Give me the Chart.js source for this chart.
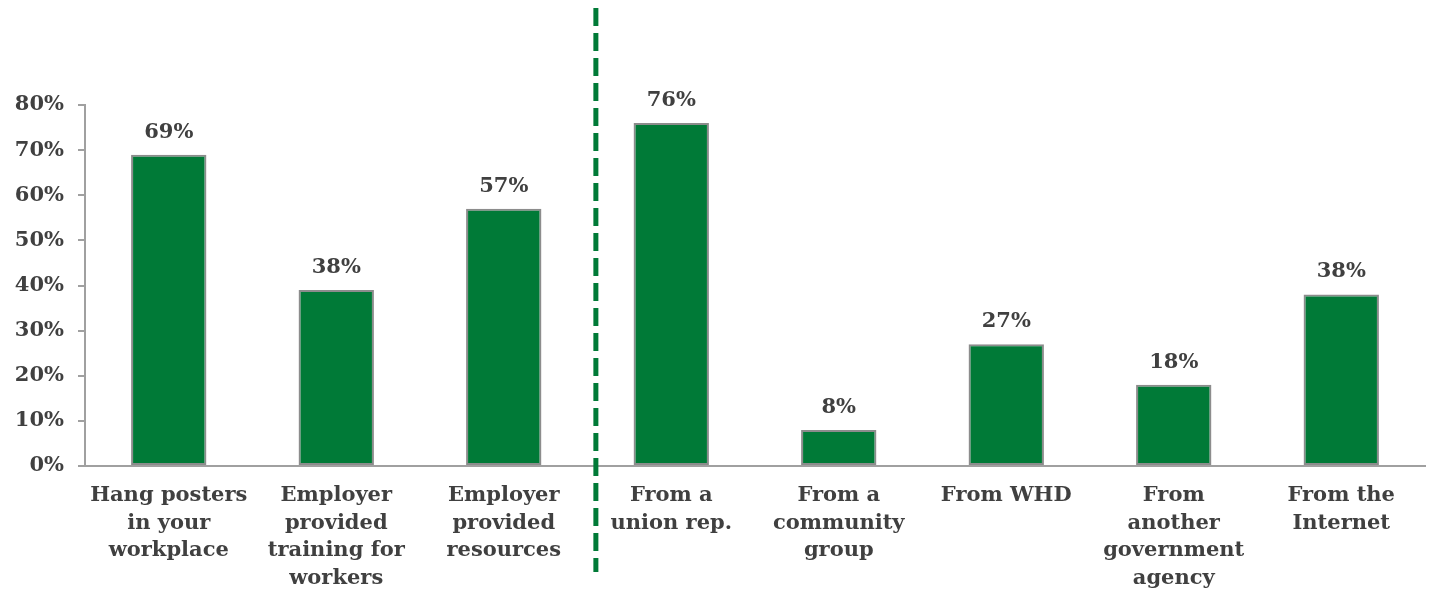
<!DOCTYPE html>
<html>
<head>
<meta charset="utf-8">
<script src="https://cdn.jsdelivr.net/npm/chart.js@4.4.1/dist/chart.umd.min.js"></script>
<style>
    html, body { margin: 0; padding: 0; background: #fff; }
    #wrap { position: relative; width: 1433px; height: 593px; }
</style>
</head>
<body>
<div id="wrap"><canvas id="chart"></canvas></div>
<script>
// Sources of information about worker rights (share of respondents)
const categories = [
    ['Hang posters', 'in your', 'workplace'],
    ['Employer', 'provided', 'training for', 'workers'],
    ['Employer', 'provided', 'resources'],
    ['From a', 'union rep.'],
    ['From a', 'community', 'group'],
    ['From WHD'],
    ['From', 'another', 'government', 'agency'],
    ['From the', 'Internet']
];
const values = [69, 39, 57, 76, 8, 27, 18, 38];
const valueLabels = ['69%', '38%', '57%', '76%', '8%', '27%', '18%', '38%'];
const yTicks = [0, 10, 20, 30, 40, 50, 60, 70, 80];
const dividerAfter = 2; // dashed line between employer items and outside sources

const GREEN = '#007a37';
const TEXT = '#404040';
const FONT = "'DejaVu Serif', Georgia, serif";

// Percent labels above each bar
const valueLabelPlugin = {
    id: 'valueLabels',
    afterDatasetsDraw(chart) {
        const ctx = chart.ctx;
        const meta = chart.getDatasetMeta(0);
        ctx.save();
        ctx.font = 'bold 21px ' + FONT;
        ctx.fillStyle = TEXT;
        ctx.textAlign = 'center';
        ctx.textBaseline = 'bottom';
        meta.data.forEach((bar, i) => {
            ctx.fillText(valueLabels[i], bar.x, bar.y - 12);
        });
        ctx.restore();
    }
};

// Green dashed separator running past the plot area
const dividerPlugin = {
    id: 'divider',
    afterDraw(chart) {
        const x = chart.scales.x;
        const a = x.getPixelForValue(dividerAfter);
        const b = x.getPixelForValue(dividerAfter + 1);
        const px = a + (b - a) * 0.55;
        const ctx = chart.ctx;
        ctx.save();
        ctx.strokeStyle = GREEN;
        ctx.lineWidth = 5;
        ctx.setLineDash([18, 7]);
        ctx.beginPath();
        ctx.moveTo(px, 8);
        ctx.lineTo(px, 572);
        ctx.stroke();
        ctx.restore();
    }
};

new Chart(document.getElementById('chart'), {
    type: 'bar',
    data: {
        labels: categories,
        datasets: [{
            data: values,
            backgroundColor: GREEN,
            borderColor: '#8c8c8c',
            borderWidth: 2,
            borderSkipped: false,
            barPercentage: 0.9,
            categoryPercentage: 0.5
        }]
    },
    options: {
        responsive: true,
        maintainAspectRatio: false,
        animation: false,
        layout: { padding: { top: 105, right: 8, left: 0, bottom: 0 } },
        plugins: {
            legend: { display: false },
            tooltip: { enabled: false }
        },
        scales: {
            x: {
                grid: { display: false, drawTicks: false },
                border: { display: true, color: '#a0a0a0', width: 2 },
                ticks: {
                    color: TEXT,
                    font: { family: FONT, size: 21, weight: 'bold', lineHeight: 1.31 },
                    padding: 16,
                    maxRotation: 0,
                    autoSkip: false
                },
                afterFit(scale) { scale.height = 127; }
            },
            y: {
                min: 0,
                max: 80,
                afterBuildTicks(scale) {
                    scale.ticks = yTicks.map(v => ({ value: v }));
                },
                grid: {
                    display: true,
                    drawOnChartArea: false,
                    drawTicks: true,
                    tickLength: 7,
                    color: '#a0a0a0',
                    lineWidth: 2
                },
                border: { display: true, color: '#a0a0a0', width: 2 },
                ticks: {
                    color: TEXT,
                    font: { family: FONT, size: 21, weight: 'bold' },
                    padding: 14,
                    callback: v => v + '%'
                },
                afterFit(scale) { scale.width = 85; }
            }
        }
    },
    plugins: [valueLabelPlugin, dividerPlugin]
});
</script>
</body>
</html>
